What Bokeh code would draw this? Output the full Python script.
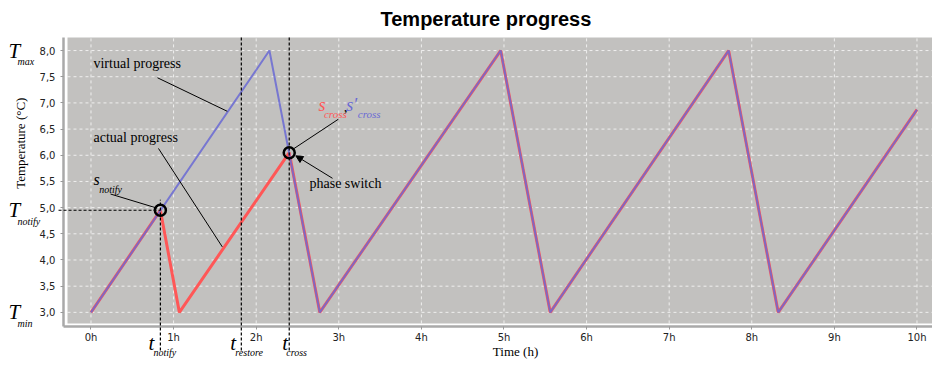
import math
from bokeh.plotting import figure
from bokeh.models import (Label, Arrow, NormalHead, BoxAnnotation, FixedTicker, Range1d,
                          LinearAxis)
from bokeh.embed import file_html
from bokeh.resources import INLINE

# ---------------- data ----------------
virtual_hours = [0.0, 2.16, 2.77, 4.96, 5.56, 7.72, 8.32, 10.0]
virtual_temp = [3.0, 8.0, 3.0, 8.0, 3.0, 8.0, 3.0, 6.87]
actual_hours = [0.0, 0.84, 1.07, 2.40, 2.77, 4.96, 5.56, 7.72, 8.32, 10.0]
actual_temp = [3.0, 4.95, 3.0, 6.05, 3.0, 8.0, 3.0, 8.0, 3.0, 6.87]

t_notify, T_notify = 0.84, 4.95
t_restore = 1.82
t_cross, T_cross = 2.40, 6.05
T_min, T_max = 3.0, 8.0

x_ticks = [0, 1, 2, 3, 4, 5, 6, 7, 8, 9, 10]
x_tick_labels = ["0h", "1h", "2h", "3h", "4h", "5h", "6h", "7h", "8h", "9h", "10h"]
y_ticks = [3.0, 3.5, 4.0, 4.5, 5.0, 5.5, 6.0, 6.5, 7.0, 7.5, 8.0]
y_tick_labels = ["3,0", "3,5", "4,0", "4,5", "5,0", "5,5", "6,0", "6,5", "7,0", "7,5", "8,0"]

# ---------------- layout (view window, plot-area box, axis positions) ----------------
X0, X1 = -1.0956, 10.188
Y0, Y1 = 2.0805, 8.3065
GRAY_LEFT, GRAY_TOP, GRAY_BOTTOM = -0.2845, 8.249, 2.789
YAXIS_AT, XAXIS_AT = -0.333, 2.732
DASH_BOTTOM = 2.272
XTITLE_AT, YTITLE_AT = 5.14, 6.23

SERIF = "Liberation Serif"
RED = "#ff5757"
BLUE = "#6a6ad4"
AXIS_GRAY = "#a9a9a9"

p = figure(width=932, height=360, output_backend="svg", toolbar_location=None,
           x_range=Range1d(X0, X1), y_range=Range1d(Y0, Y1),
           x_axis_location=None, y_axis_location=None,
           title="Temperature progress",
           min_border_left=0, min_border_right=0, min_border_bottom=0, min_border_top=0)

p.title.align = "left"
p.title.offset = 380
p.title.text_font = "Liberation Sans"
p.title.text_font_size = "20px"
p.title.text_font_style = "bold"
p.title.text_color = "black"

p.outline_line_color = None
p.background_fill_color = "white"
p.border_fill_color = "white"
p.grid.visible = False

gray = BoxAnnotation(left=GRAY_LEFT, bottom=GRAY_BOTTOM, top=GRAY_TOP,
                     fill_color="#c2c1bf", fill_alpha=1.0, line_color=None, level="image")
p.add_layout(gray)

# grid lines (white, dashed) inside the plot area
p.segment(x0=x_ticks, y0=GRAY_BOTTOM, x1=x_ticks, y1=GRAY_TOP, line_color="white",
          line_alpha=0.75, line_dash="3 3", line_width=1, level="underlay")
p.segment(x0=GRAY_LEFT, y0=y_ticks, x1=X1, y1=y_ticks, line_color="white",
          line_alpha=0.75, line_dash="3 3", line_width=1, level="underlay")

xaxis = LinearAxis(fixed_location=XAXIS_AT, bounds=(YAXIS_AT, X1))
yaxis = LinearAxis(fixed_location=YAXIS_AT, bounds=(XAXIS_AT, GRAY_TOP))
p.add_layout(xaxis, "below")
p.add_layout(yaxis, "left")

for ax in (xaxis, yaxis):
    ax.axis_line_color = AXIS_GRAY
    ax.axis_line_width = 2.5
    ax.major_tick_line_color = "#999999"
    ax.major_tick_out = 3
    ax.major_tick_in = 0
    ax.minor_tick_line_color = None
    ax.major_label_text_font = "DejaVu Sans"
    ax.major_label_text_font_size = "10px"
    ax.major_label_text_color = "#222222"

xaxis.ticker = FixedTicker(ticks=x_ticks)
xaxis.major_label_overrides = dict(zip(x_ticks, x_tick_labels))
yaxis.ticker = FixedTicker(ticks=y_ticks)
yaxis.major_label_overrides = dict(zip(y_ticks, y_tick_labels))
xaxis.major_label_standoff = 3
yaxis.major_label_standoff = 5

# ---------------- series ----------------
p.line(actual_hours, actual_temp, line_color=RED, line_width=3)
p.line(virtual_hours, virtual_temp, line_color=BLUE, line_width=2, line_alpha=0.85)

# dashed guide lines
def dashed(xs, ys, xe, ye):
    p.add_layout(Arrow(end=None, x_start=xs, y_start=ys, x_end=xe, y_end=ye,
                       line_color="black", line_width=1.2, line_dash="3 2"))

dashed(t_notify, DASH_BOTTOM, t_notify, T_notify + 0.2)
dashed(YAXIS_AT - 0.06, T_notify, t_notify, T_notify)
dashed(t_restore, DASH_BOTTOM, t_restore, GRAY_TOP)
dashed(t_cross, DASH_BOTTOM, t_cross, GRAY_TOP)

# marker rings
p.scatter([t_notify, t_cross], [T_notify, T_cross], size=11, fill_color=None,
          line_color="black", line_width=2.5)

# leader lines
def leader(xs, ys, xe, ye, head=False):
    end = NormalHead(size=7, fill_color="black", line_color="black") if head else None
    p.add_layout(Arrow(end=end, x_start=xs, y_start=ys, x_end=xe, y_end=ye,
                       line_color="black", line_width=1))

leader(0.805, 7.48, 1.65, 6.84)
leader(0.817, 6.13, 1.59, 4.25)
leader(0.236, 5.26, t_notify - 0.04, T_notify + 0.04)
leader(2.996, 6.69, t_cross + 0.04, T_cross + 0.06)
leader(2.924, 5.56, t_cross + 0.08, T_cross - 0.06, head=True)

def label(x, y, text, size, color="black", style="normal", dx=0, dy=0, align="left",
          baseline="middle", angle=0.0):
    p.add_layout(Label(x=x, y=y, text=text, text_font=SERIF, text_font_size=size,
                       text_color=color, text_font_style=style, x_offset=dx, y_offset=dy,
                       text_align=align, text_baseline=baseline, angle=angle))

# axis titles
label(XTITLE_AT, XAXIS_AT, "Time (h)", "13px", align="center", baseline="bottom", dy=-33)
label(YAXIS_AT, YTITLE_AT, "Temperature (°C)", "13px", align="center", dx=-43,
      angle=math.pi / 2)

label(0.03, 7.76, "virtual progress", "14px")
label(0.03, 6.34, "actual progress", "14px")
label(2.645, 5.46, "phase switch", "14px")

# s_notify
label(0.03, 5.53, "s", "16px", style="italic")
label(0.10, 5.35, "notify", "10px", style="italic")

# s_cross, s'_cross
label(2.755, 6.96, "s", "18px", color=RED, style="italic")
label(2.82, 6.79, "cross", "11px", color=RED, style="italic")
label(3.06, 6.93, ",", "15px", color="black")
label(3.09, 6.96, "s\u2032", "18px", color=BLUE, style="italic")
label(3.23, 6.79, "cross", "11px", color=BLUE, style="italic")

# T labels on the left
for val, sub in ((T_max, "max"), (T_notify, "notify"), (T_min, "min")):
    label(YAXIS_AT, val, "T", "21px", style="italic", dx=-55, dy=0)
    label(YAXIS_AT, val, sub, "10px", style="italic", dx=-46, dy=-11)

# t labels below the axis
for val, sub, dt, ds in ((t_notify, "notify", -12, -7), (t_restore, "restore", -11, -6),
                         (t_cross, "cross", -7, -3)):
    label(val, XAXIS_AT, "t", "21px", style="italic", dx=dt, dy=-17)
    label(val, XAXIS_AT, sub, "10px", style="italic", dx=ds, dy=-26)

open("out.html", "w").write(file_html(p, INLINE))
